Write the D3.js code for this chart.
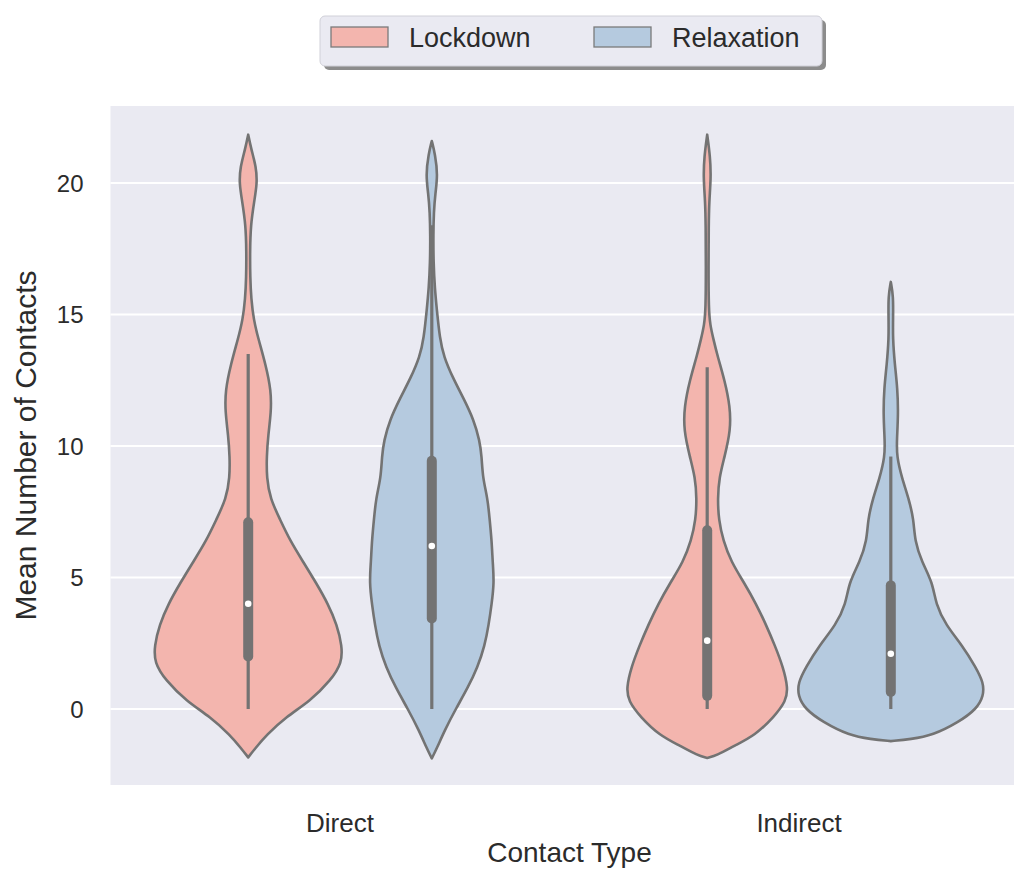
<!DOCTYPE html>
<html>
<head>
<meta charset="utf-8">
<script src="https://cdn.jsdelivr.net/npm/d3@7"></script>
<style>
  html, body { margin: 0; padding: 0; background: #ffffff; }
  svg { display: block; }
  text { font-family: "Liberation Sans", Arial, sans-serif; fill: #2b2b2b; }
</style>
</head>
<body>
<svg id="chart" width="1014" height="877"></svg>
<script>
// ---------------- data ----------------
const categories = ["Direct", "Indirect"];
const hues = ["Lockdown", "Relaxation"];
const yTicks = [0, 5, 10, 15, 20];

// kernel density profiles: [value, relative density]
const directLockdown = [
  [21.84,0],[21.3,3],[20.6,8],[20.0,9],[19.3,6],[18.4,2.5],[17.4,1.8],[16.4,2],
  [15.6,3],[14.8,5.5],[14.1,10],[13.1,17.5],[12.1,23],[11.3,23],[10.4,20],[9.6,18.5],
  [8.8,18.5],[8.0,22],[7.2,32],[6.4,42],[5.6,55],[4.8,68],[4.0,80],[3.2,89],
  [2.4,94],[1.76,94],[1.1,83],[0.3,62],[-0.3,38],[-1.0,18],[-1.5,7],[-1.84,0]
];
const directRelaxation = [
  [21.6,0],[21.1,3.3],[20.3,6],[19.6,3.5],[18.9,2],[18.0,1.5],[17.0,1.7],[16.0,3],
  [15.2,5],[14.1,8],[13.4,12],[12.6,21],[11.8,32],[11.0,42],[10.2,48],[9.6,50],
  [8.8,51],[8.0,56],[7.2,58],[6.4,60],[5.6,61],[4.8,62.5],[4.0,60],[3.2,57],
  [2.4,53],[1.6,46],[0.8,36],[0.0,24],[-0.8,13],[-1.5,5],[-1.88,0]
];
const indirectLockdown = [
  [21.84,0],[21.0,3],[20.2,3.8],[19.3,2],[18.4,1.5],[16.8,1.3],[15.2,1.5],[14.6,3],
  [14.1,6],[13.4,10.5],[12.5,17.5],[11.5,23],[10.6,23.5],[9.6,17.5],[8.8,12],[8.0,10.5],
  [7.2,11.5],[6.4,16],[5.6,24],[4.8,37],[4.0,49],[3.2,59],[2.4,68],[1.6,76],
  [0.8,81],[0.3,79],[-0.3,67],[-1.0,48],[-1.4,27],[-1.76,10],[-1.86,0]
];
const indirectRelaxation = [
  [16.24,0],[15.7,2.5],[14.9,2.3],[14.1,2],[13.1,4],[12.2,6.7],[11.2,7.5],[10.2,6],
  [9.6,6],[8.8,11],[8.0,18],[7.2,23],[6.4,24],[5.6,31],[4.8,42],[4.0,45],
  [3.2,55],[2.4,72],[1.6,85],[1.0,93],[0.5,93],[0.0,86],[-0.5,68],[-1.0,42],
  [-1.15,20],[-1.22,0]
];

// inner box statistics: whiskerLow, q1, median, q3, whiskerHigh
const directLockdownStats = [0, 2.0, 4.0, 7.1, 13.5];
const directRelaxationStats = [0, 3.44, 6.2, 9.44, 18.4];
const indirectLockdownStats = [0, 0.5, 2.6, 6.8, 13.0];
const indirectRelaxationStats = [0, 0.65, 2.1, 4.7, 9.6];

const hueColors = ["#f3b5ae", "#b5cadf"];

const violins = [
  {cat: "Direct", hue: "Lockdown", profile: directLockdown, stats: directLockdownStats},
  {cat: "Direct", hue: "Relaxation", profile: directRelaxation, stats: directRelaxationStats},
  {cat: "Indirect", hue: "Lockdown", profile: indirectLockdown, stats: indirectLockdownStats},
  {cat: "Indirect", hue: "Relaxation", profile: indirectRelaxation, stats: indirectRelaxationStats}
];

// ---------------- layout ----------------
const svg = d3.select("#chart");
const plot = {left: 110.5, right: 1028.5, top: 106, bottom: 785};
const outline = "#737373";

const x0 = d3.scaleBand().domain(categories).range([plot.left, plot.right]).padding(0);
const x1 = d3.scaleBand().domain(hues).range([0.1 * x0.bandwidth(), 0.9 * x0.bandwidth()]).padding(0);
const y = d3.scaleLinear().domain([-2.89, 22.93]).range([plot.bottom, plot.top]);
const color = d3.scaleOrdinal().domain(hues).range(hueColors);
const maxDensity = 92;
const w = d3.scaleLinear().domain([0, maxDensity]).range([0, x1.bandwidth() / 2]);

// background
svg.append("rect").attr("x", plot.left).attr("y", plot.top)
  .attr("width", plot.right - plot.left).attr("height", plot.bottom - plot.top)
  .attr("fill", "#eaeaf2");

// grid
svg.append("g").selectAll("line").data(yTicks).join("line")
  .attr("x1", plot.left).attr("x2", plot.right)
  .attr("y1", d => y(d)).attr("y2", d => y(d))
  .attr("stroke", "#ffffff").attr("stroke-width", 2);

// y axis
const yAxis = svg.append("g").attr("transform", `translate(${plot.left},0)`)
  .call(d3.axisLeft(y).tickValues(yTicks).tickSize(0).tickPadding(27));
yAxis.select(".domain").remove();
yAxis.selectAll("text").style("font-size", "24px").attr("fill", "#2b2b2b")
  .style("font-family", '"Liberation Sans", Arial, sans-serif').attr("dy", "0.35em");

// x axis
const xAxis = svg.append("g").attr("transform", `translate(0,${plot.bottom})`)
  .call(d3.axisBottom(x0).tickSize(0).tickPadding(29));
xAxis.select(".domain").remove();
xAxis.selectAll("text").style("font-size", "26px").attr("fill", "#2b2b2b")
  .style("font-family", '"Liberation Sans", Arial, sans-serif');

// axis labels
svg.append("text").attr("x", (plot.left + plot.right) / 2).attr("y", 862)
  .attr("text-anchor", "middle").style("font-size", "28px").text("Contact Type");
svg.append("text").attr("transform", `translate(36,${(plot.top + plot.bottom) / 2}) rotate(-90)`)
  .attr("text-anchor", "middle").style("font-size", "30px").text("Mean Number of Contacts");

// violins
const g = svg.append("g");
violins.forEach(v => {
  const cx = x0(v.cat) + x1(v.hue) + x1.bandwidth() / 2;
  const area = d3.area()
    .y(d => y(d[0]))
    .x0(d => cx - w(d[1]))
    .x1(d => cx + w(d[1]))
    .curve(d3.curveBasis);
  const prof = v.profile.slice().sort((a, b) => b[0] - a[0]);
  g.append("path").attr("d", area(prof))
    .attr("fill", color(v.hue)).attr("stroke", outline).attr("stroke-width", 2.6)
    .attr("stroke-linejoin", "round");
  const [wl, q1, med, q3, wh] = v.stats;
  g.append("line").attr("x1", cx).attr("x2", cx).attr("y1", y(wl)).attr("y2", y(wh))
    .attr("stroke", outline).attr("stroke-width", 3.2);
  g.append("line").attr("x1", cx).attr("x2", cx).attr("y1", y(q1)).attr("y2", y(q3))
    .attr("stroke", outline).attr("stroke-width", 10).attr("stroke-linecap", "round");
  g.append("circle").attr("cx", cx).attr("cy", y(med)).attr("r", 3.3).attr("fill", "#ffffff");
});

// legend
const leg = svg.append("g");
const lb = {x: 320, y: 16, w: 502, h: 50};
leg.append("rect").attr("x", lb.x + 4).attr("y", lb.y + 4).attr("width", lb.w).attr("height", lb.h)
  .attr("rx", 5).attr("fill", "#8c8c8c");
leg.append("rect").attr("x", lb.x).attr("y", lb.y).attr("width", lb.w).attr("height", lb.h)
  .attr("rx", 5).attr("fill", "#eaeaf2").attr("stroke", "#d0d0d8").attr("stroke-width", 1);
const legX = d3.scaleOrdinal().domain(hues).range([331, 594]);
hues.forEach(h => {
  leg.append("rect").attr("x", legX(h)).attr("y", 27).attr("width", 57).attr("height", 20)
    .attr("fill", color(h)).attr("stroke", "#7a7a7a").attr("stroke-width", 1.3);
  leg.append("text").attr("x", legX(h) + 78).attr("y", 47).style("font-size", "27px").text(h);
});
</script>
</body>
</html>
